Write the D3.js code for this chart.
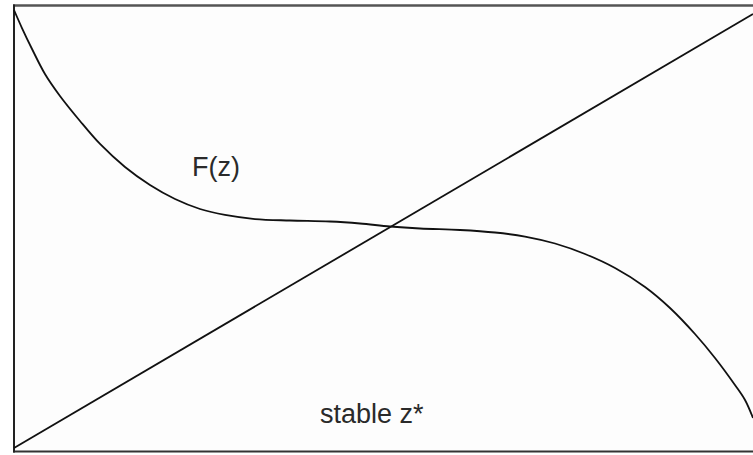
<!DOCTYPE html>
<html>
<head>
<meta charset="utf-8">
<script src="https://cdn.jsdelivr.net/npm/d3@7"></script>
<style>
  html, body { margin: 0; padding: 0; background: #ffffff; }
  svg { display: block; }
  text { font-family: "Liberation Sans", Arial, sans-serif; fill: #2a2a2a; }
</style>
</head>
<body>
<svg id="chart" width="753" height="455"></svg>
<script>
// Map F(z) (decreasing) against the identity line; fixed point where they cross
const zValues = [0, 0.0108, 0.0244, 0.0419, 0.0622, 0.0893, 0.1164, 0.1502, 0.1840, 0.2179,
                 0.2517, 0.2855, 0.3261, 0.3735, 0.4276, 0.4682, 0.5088, 0.5494, 0.6035, 0.6509,
                 0.6915, 0.7321, 0.7727, 0.8133, 0.8539, 0.8877, 0.9215, 0.9486, 0.9756, 0.9892, 1.0];
const fValues = [1.0092, 0.9677, 0.9194, 0.8618, 0.8111, 0.7535, 0.7005, 0.6475, 0.6060, 0.5737,
                 0.5507, 0.5369, 0.5276, 0.5242, 0.5219, 0.5173, 0.5104, 0.5058, 0.5023, 0.4965,
                 0.4873, 0.4712, 0.4470, 0.4147, 0.3710, 0.3226, 0.2627, 0.2074, 0.1452, 0.1106, 0.0691];

// 45-degree line y = z
const identityZ = [0, 1];
const identityY = [0, 1];

const labels = [
  { text: "F(z)", z: 0.241, y: 0.627 },
  { text: "stable z*", z: 0.414, y: 0.058 }
];

const svg = d3.select("#chart");

const x = d3.scaleLinear().domain([0, 1]).range([14, 753]);
const y = d3.scaleLinear().domain([0, 1]).range([448, 14]);

// plot background and frame
svg.append("rect")
  .attr("x", 14).attr("y", 5.5)
  .attr("width", 745).attr("height", 446)
  .attr("fill", "#fdfdfd")
  .attr("stroke", "none");

svg.append("line")
  .attr("x1", 13).attr("x2", 753).attr("y1", 5.5).attr("y2", 5.5)
  .attr("stroke", "#555").attr("stroke-width", 2.5);
svg.append("line")
  .attr("x1", 13).attr("x2", 753).attr("y1", 451.5).attr("y2", 451.5)
  .attr("stroke", "#333").attr("stroke-width", 2);
svg.append("line")
  .attr("x1", 14).attr("x2", 14).attr("y1", 4.5).attr("y2", 452.5)
  .attr("stroke", "#222").attr("stroke-width", 2);

const straight = d3.line()
  .x(d => x(d[0]))
  .y(d => y(d[1]));

const smooth = d3.line()
  .x(d => x(d[0]))
  .y(d => y(d[1]))
  .curve(d3.curveCatmullRom.alpha(0.5));

svg.append("path")
  .datum(identityZ.map((z, i) => [z, identityY[i]]))
  .attr("d", straight)
  .attr("fill", "none")
  .attr("stroke", "#111")
  .attr("stroke-width", 1.8);

svg.append("path")
  .datum(zValues.map((z, i) => [z, fValues[i]]))
  .attr("d", smooth)
  .attr("fill", "none")
  .attr("stroke", "#111")
  .attr("stroke-width", 1.8);

svg.selectAll("text.label")
  .data(labels)
  .enter().append("text")
  .attr("class", "label")
  .attr("x", d => x(d.z))
  .attr("y", d => y(d.y))
  .attr("font-size", 27)
  .text(d => d.text);
</script>
</body>
</html>
